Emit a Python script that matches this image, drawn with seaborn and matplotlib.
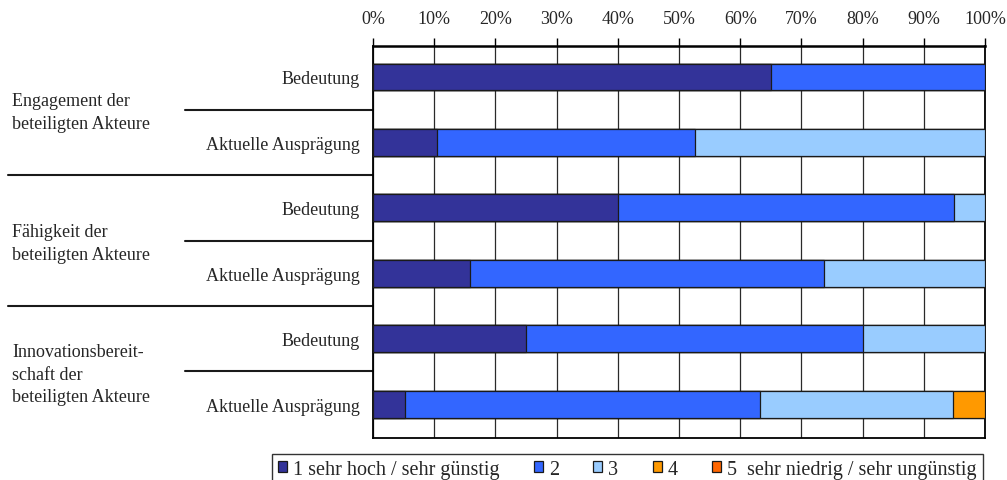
import matplotlib
matplotlib.use("Agg")
import matplotlib.pyplot as plt
import matplotlib.transforms as mtransforms
from matplotlib.patches import Patch
import seaborn as sns
import pandas as pd
import numpy as np

# ---- data ----
row_ids = ["r0", "r1", "r2", "r3", "r4", "r5"]
row_labels = ["Bedeutung", "Aktuelle Ausprägung",
              "Bedeutung", "Aktuelle Ausprägung",
              "Bedeutung", "Aktuelle Ausprägung"]
group_labels = ["Engagement der\nbeteiligten Akteure",
                "Fähigkeit der\nbeteiligten Akteure",
                "Innovationsbereit-\nschaft der\nbeteiligten Akteure"]
cat_labels = ["1 sehr hoch / sehr günstig", "2", "3", "4",
              "5  sehr niedrig / sehr ungünstig"]
cat_colors = ["#333399", "#3366FF", "#99CCFF", "#FF9900", "#FF6600"]

s1 = [65.0, 10.5, 40.0, 15.8, 25.0, 5.3]
s2 = [35.0, 42.1, 55.0, 57.9, 55.0, 57.9]
s3 = [0.0, 47.4, 5.0, 26.3, 20.0, 31.6]
s4 = [0.0, 0.0, 0.0, 0.0, 0.0, 5.2]
s5 = [0.0, 0.0, 0.0, 0.0, 0.0, 0.0]
series = [s1, s2, s3, s4, s5]
xticks = [0, 10, 20, 30, 40, 50, 60, 70, 80, 90, 100]
xtick_labels = [f"{t}%" for t in xticks]

# ---- figure ----
sns.set_style("white")
plt.rcParams["font.family"] = ["Liberation Serif", "DejaVu Serif"]
plt.rcParams["font.size"] = 13

fig = plt.figure(figsize=(10.07, 4.81), dpi=100)
ax = fig.add_axes([373 / 1007, 1 - 439 / 481, 612 / 1007, (439 - 47) / 481])

cum = np.cumsum(np.array(series), axis=0)
for k in range(len(series) - 1, -1, -1):
    df = pd.DataFrame({"row": row_ids, "value": cum[k]})
    sns.barplot(data=df, x="value", y="row", orient="h", color=cat_colors[k],
                saturation=1, width=0.41, edgecolor="#1a1a1a", linewidth=0.9,
                ax=ax, zorder=3)

ax.set_xlim(0, 100)
ax.set_ylim(5.518, -0.473)
ax.set_xlabel("")
ax.set_ylabel("")
ax.xaxis.tick_top()
ax.set_xticks(xticks)
ax.set_xticklabels(xtick_labels, fontsize=13)
ax.tick_params(axis="x", direction="out", length=6, width=1, color="black", pad=8, top=True, bottom=False)
ax.set_yticks(range(len(row_ids)))
ax.set_yticklabels(row_labels, fontsize=13)
ax.tick_params(axis="y", length=0, pad=9.5)
for t in xticks:
    ax.axvline(t, color="#2a2a2a", linewidth=0.9, zorder=1)
for side in ["top", "bottom", "left", "right"]:
    ax.spines[side].set_visible(True)
    ax.spines[side].set_color("black")
    ax.spines[side].set_linewidth(1.3)
ax.spines["top"].set_linewidth(1.8)

# group separators and labels
trans = mtransforms.blended_transform_factory(ax.transAxes, ax.transData)
short_x = (185 - 373) / 612
long_x = (8 - 373) / 612
for yb, xs in [(0.5, short_x), (1.5, long_x), (2.5, short_x), (3.5, long_x), (4.5, short_x)]:
    ax.plot([xs, 0], [yb, yb], transform=trans, color="#1a1a1a", linewidth=1.5, clip_on=False)

label_x = (12 - 373) / 612
for g, yc in zip(group_labels, [0.5, 2.5, 4.5]):
    ax.text(label_x, yc + 0.04, g, transform=trans, ha="left", va="center",
            fontsize=13, linespacing=1.45)

# legend
handles = [Patch(facecolor=c, edgecolor="#1a1a1a", linewidth=0.9) for c in cat_colors]
leg = fig.legend(handles, cat_labels, loc="upper left", ncol=5,
                 bbox_to_anchor=(272 / 1007, 1 - 455 / 481), borderaxespad=0,
                 frameon=True, fancybox=False, edgecolor="black",
                 handlelength=0.45, handleheight=0.45, handletextpad=0.3,
                 columnspacing=1.7, borderpad=0.3, fontsize=14.5)
leg.get_frame().set_linewidth(1.0)

fig.savefig("out.png", dpi=100)
